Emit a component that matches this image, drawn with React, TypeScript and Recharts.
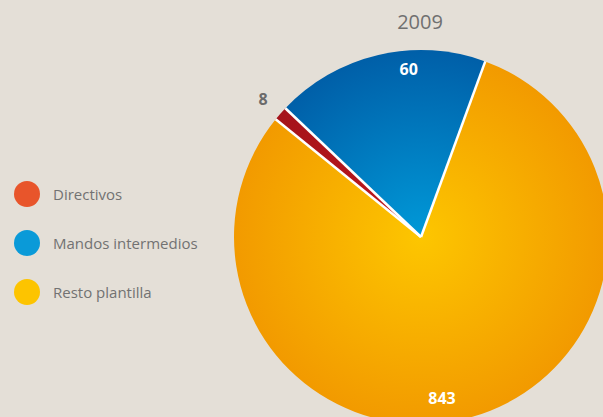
import React from 'react';
import { PieChart, Pie, Cell } from 'recharts';

document.body.style.margin = '0';

const categories = ['Directivos', 'Mandos intermedios', 'Resto plantilla'];
const values = [8, 60, 843];
// share of the circle each slice takes in the picture (%)
const shares = [1.25, 18.5, 80.25];
const legendColors = ['#e8552b', '#0a9ad8', '#fdc400'];
const title = '2009';

const data = categories.map((name, i) => ({ name, value: values[i], share: shares[i] }));

const fills = ['url(#gradRed)', 'url(#gradBlue)', 'url(#gradYellow)'];
const labelColors = ['#6b6b6b', '#ffffff', '#ffffff'];
const labelRadiusOffset = [23, -19, -25];
const labelAngleShift = [0, -9, -8];

const RAD = Math.PI / 180;
const CX = 421;
const CY = 237;
const R = 187;
const FONT = '"Open Sans", "Noto Sans", sans-serif';

function renderLabel(props: any) {
  const { cx, cy, startAngle, midAngle, outerRadius, index } = props;
  const sx = cx + outerRadius * Math.cos(-startAngle * RAD);
  const sy = cy + outerRadius * Math.sin(-startAngle * RAD);
  const a = midAngle + labelAngleShift[index];
  const r = outerRadius + labelRadiusOffset[index];
  const tx = cx + r * Math.cos(-a * RAD);
  const ty = cy + r * Math.sin(-a * RAD);
  return (
    <g>
      <line x1={cx} y1={cy} x2={sx} y2={sy} stroke="#fff" strokeWidth={2.5} />
      <text x={tx} y={ty} textAnchor="middle" dominantBaseline="central"
        fill={labelColors[index]} fontSize={16} fontWeight={700} fontFamily={FONT}>
        {values[index]}
      </text>
    </g>
  );
}

function LegendBox() {
  return (
    <div style={{ position: 'absolute', left: 14, top: 169, fontFamily: FONT }}>
      {categories.map((c, i) => (
        <div key={c} style={{ display: 'flex', alignItems: 'center', height: 49 }}>
          <span style={{ width: 26, height: 26, borderRadius: 13, background: legendColors[i], display: 'inline-block' }} />
          <span style={{ marginLeft: 13, fontSize: 15, color: '#727272' }}>{c}</span>
        </div>
      ))}
    </div>
  );
}

export default function App() {
  return (
    <div style={{ width: 603, height: 417, background: '#e4dfd7', position: 'relative', overflow: 'hidden' }}>
      <div style={{ position: 'absolute', left: 0, width: 840, top: 8, textAlign: 'center', fontFamily: FONT, fontSize: 20, color: '#707070' }}>
        {title}
      </div>
      <LegendBox />
      <div style={{ position: 'absolute', left: 0, top: 0 }}>
        <PieChart width={603} height={417} margin={{ top: 0, right: 0, bottom: 0, left: 0 }}>
          <defs>
            <radialGradient id="gradYellow" gradientUnits="userSpaceOnUse" cx={CX} cy={CY} r={R}>
              <stop offset="0%" stopColor="#fdc600" />
              <stop offset="100%" stopColor="#f29a00" />
            </radialGradient>
            <radialGradient id="gradBlue" gradientUnits="userSpaceOnUse" cx={CX} cy={CY} r={R}>
              <stop offset="0%" stopColor="#0099d8" />
              <stop offset="100%" stopColor="#005fa8" />
            </radialGradient>
            <radialGradient id="gradRed" gradientUnits="userSpaceOnUse" cx={CX} cy={CY} r={R}>
              <stop offset="0%" stopColor="#c0161c" />
              <stop offset="100%" stopColor="#a5131a" />
            </radialGradient>
          </defs>
          <Pie
            data={data}
            dataKey="share"
            nameKey="name"
            cx={CX}
            cy={CY}
            outerRadius={R}
            startAngle={141}
            endAngle={-219}
            stroke="none"
            label={renderLabel}
            labelLine={false}
            isAnimationActive={false}
          >
            {data.map((d, i) => (
              <Cell key={d.name} fill={fills[i]} />
            ))}
          </Pie>
        </PieChart>
      </div>
    </div>
  );
}
